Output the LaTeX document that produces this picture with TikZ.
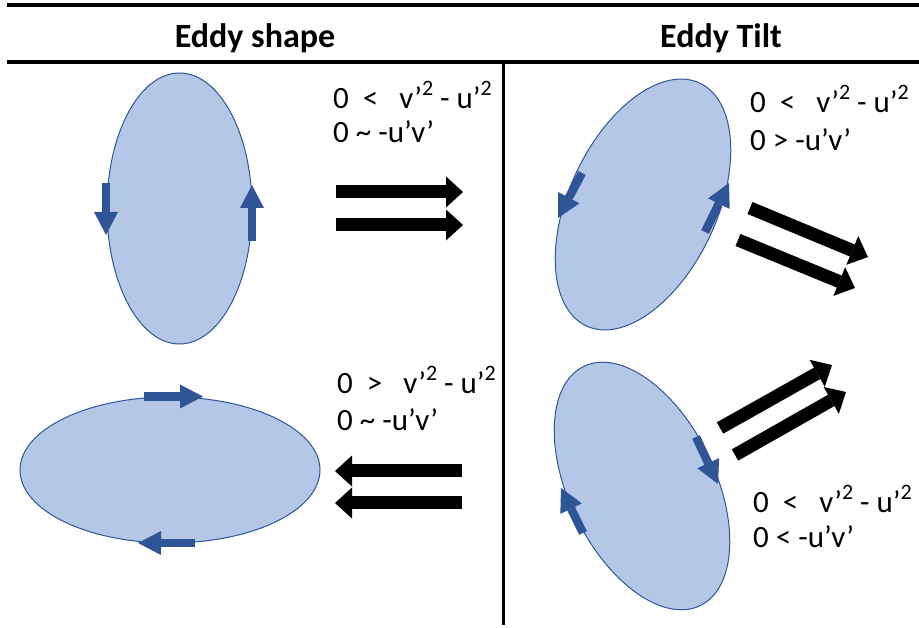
\documentclass[tikz,border=0pt]{standalone}
\usepackage{fontspec}
\setmainfont{Carlito}
\usetikzlibrary{arrows.meta,shapes.geometric}
\definecolor{eddyfill}{HTML}{B4C7E7}
\definecolor{eddyline}{HTML}{2F5597}
\newcommand{\supsq}{\raisebox{0.42em}{\fontsize{22}{22}\selectfont 2}}
\begin{document}
\begin{tikzpicture}[x=1pt,y=1pt,
  eddy/.style={ellipse, fill=eddyfill, draw=eddyline, line width=1pt, inner sep=0pt},
  spin/.style={draw=eddyline, line width=8.5pt, -{Triangle[width=24pt,length=23pt,line width=0pt]}},
  flux/.style={draw=black, line width=13pt, -{Triangle[width=31pt,length=17pt,line width=0pt]}},
  rulethick/.style={line width=4pt},
  rulethin/.style={line width=3pt},
  lbl/.style={anchor=base west, inner sep=0pt, font=\fontsize{31}{37}\selectfont},
  ttl/.style={inner sep=0pt, font=\bfseries\fontsize{34}{40}\selectfont}]
\useasboundingbox (0,0) rectangle (919,627);

% frame lines
\coordinate (tl) at (7,622);   \coordinate (tr) at (919,622);
\coordinate (hl) at (7,565);   \coordinate (hr) at (919,565);
\coordinate (vt) at (503,565); \coordinate (vb) at (503,2);
\draw[rulethick] (tl) -- (tr);
\draw[rulethick] (hl) -- (hr);
\draw[rulethin] (vt) -- (vb);

% titles
\node[ttl] (t1) at (255,589) {Eddy shape};
\node[ttl] (t2) at (721,589) {Eddy Tilt};

% eddies
\node[eddy, minimum width=145pt, minimum height=271pt] (e1) at (179.5,418.5) {};
\node[eddy, minimum width=300pt, minimum height=146pt] (e2) at (170,157) {};
\node[eddy, minimum width=148pt, minimum height=268pt, rotate=-25] (e3) at (643,422.5) {};
\node[eddy, minimum width=146pt, minimum height=266pt, rotate=26] (e4) at (642,141) {};

% spin arrows
\coordinate (s1a) at (106,444); \coordinate (s1b) at (106,392);
\coordinate (s2a) at (252,386); \coordinate (s2b) at (252,442);
\coordinate (s3a) at (144,230.5); \coordinate (s3b) at (203,230.5);
\coordinate (s4a) at (195,84); \coordinate (s4b) at (138,84);
\coordinate (s5a) at (582,454); \coordinate (s5b) at (558,409);
\coordinate (s6a) at (705,395); \coordinate (s6b) at (729,444);
\coordinate (s7a) at (696,190); \coordinate (s7b) at (718,143);
\coordinate (s8a) at (583,94); \coordinate (s8b) at (561,139);
\draw[spin] (s1a) -- (s1b);
\draw[spin] (s2a) -- (s2b);
\draw[spin] (s3a) -- (s3b);
\draw[spin] (s4a) -- (s4b);
\draw[spin] (s5a) -- (s5b);
\draw[spin] (s6a) -- (s6b);
\draw[spin] (s7a) -- (s7b);
\draw[spin] (s8a) -- (s8b);

% flux arrows
\coordinate (f1a) at (336,435); \coordinate (f1b) at (463,435);
\coordinate (f2a) at (336,402); \coordinate (f2b) at (463,402);
\coordinate (f3a) at (462,156); \coordinate (f3b) at (335,156);
\coordinate (f4a) at (462,124); \coordinate (f4b) at (335,124);
\coordinate (f5a) at (750,419); \coordinate (f5b) at (868,370);
\coordinate (f6a) at (738,387); \coordinate (f6b) at (855,339);
\coordinate (f7a) at (720,199); \coordinate (f7b) at (832,262);
\coordinate (f8a) at (735,172); \coordinate (f8b) at (846,235);
\draw[flux] (f1a) -- (f1b);
\draw[flux] (f2a) -- (f2b);
\draw[flux] (f3a) -- (f3b);
\draw[flux] (f4a) -- (f4b);
\draw[flux] (f5a) -- (f5b);
\draw[flux] (f6a) -- (f6b);
\draw[flux] (f7a) -- (f7b);
\draw[flux] (f8a) -- (f8b);

% labels
\node[lbl] (l1a) at (333,518) {0 \ <\ \ \ v’\supsq{} - u’\supsq};
\node[lbl] (l1b) at (333,484) {0 \char`~\ -u’v’};
\node[lbl] (l2a) at (337,233.5) {0 \ >\ \ \ v’\supsq{} - u’\supsq};
\node[lbl] (l2b) at (337,196.5) {0 \char`~\ -u’v’};
\node[lbl] (l3a) at (750,514) {0 \ <\ \ \ v’\supsq{} - u’\supsq};
\node[lbl] (l3b) at (750,476) {0 > -u’v’};
\node[lbl] (l4a) at (753,114) {0 \ <\ \ \ v’\supsq{} - u’\supsq};
\node[lbl] (l4b) at (753,79) {0 < -u’v’};
\end{tikzpicture}
\end{document}
